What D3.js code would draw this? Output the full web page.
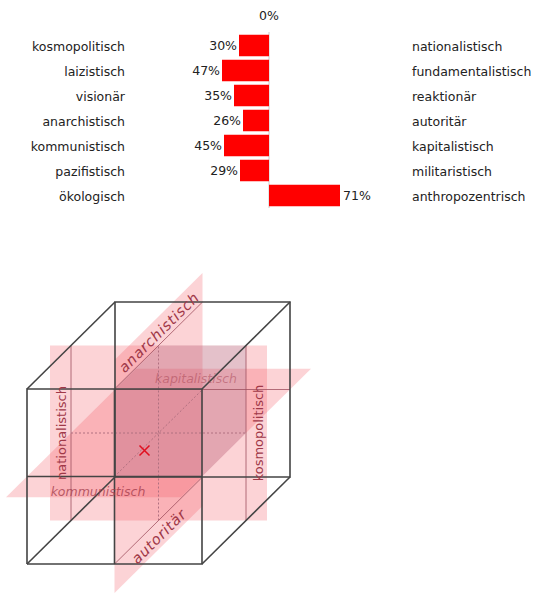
<!DOCTYPE html>
<html><head><meta charset="utf-8">
<script src="https://cdn.jsdelivr.net/npm/d3@7"></script>
<style>body{margin:0;background:#fff}svg{display:block}text{font-family:"DejaVu Sans",Verdana,sans-serif}</style>
</head><body>
<script>
const leftLabels = ["kosmopolitisch","laizistisch","visionär","anarchistisch","kommunistisch","pazifistisch","ökologisch"];
const rightLabels = ["nationalistisch","fundamentalistisch","reaktionär","autoritär","kapitalistisch","militaristisch","anthropozentrisch"];
const values = [-30,-47,-35,-26,-45,-29,71];
const tickLabels = ["0%"];
const planeLabels = ["anarchistisch","autoritär","nationalistisch","kosmopolitisch","kommunistisch","kapitalistisch"];
const position = [0.42, 0.40, 0.5];

const W=539,H=600;
const svg=d3.select("body").append("svg").attr("width",W).attr("height",H);

// ---- bar chart ----
const x=d3.scaleLinear().domain([-100,100]).range([169,369]);
const y=d3.scaleBand().domain(d3.range(values.length)).range([33,208]).paddingInner(0.14).paddingOuter(0.07);
const g=svg.append("g");
g.append("line").attr("x1",x(0)).attr("x2",x(0)).attr("y1",32).attr("y2",208).attr("stroke","#ccc");
g.append("text").attr("x",x(0)).attr("y",20).attr("text-anchor","middle").attr("font-size",12.5).attr("fill","#222").text(tickLabels[0]);
values.forEach((v,i)=>{
  const cy=y(i)+y.bandwidth()/2;
  g.append("rect").attr("x",x(Math.min(0,v))).attr("width",Math.abs(x(v)-x(0))).attr("y",y(i)).attr("height",y.bandwidth()).attr("fill","#ff0000");
  g.append("text").attr("x",v<0?x(v)-2:x(v)+3).attr("y",cy+4.5).attr("text-anchor",v<0?"end":"start").attr("font-size",12.5).attr("fill","#222").text(Math.abs(v)+"%");
  g.append("text").attr("x",125).attr("y",cy+5).attr("text-anchor","end").attr("font-size",12.5).attr("fill","#222").text(leftLabels[i]);
  g.append("text").attr("x",412).attr("y",cy+5).attr("font-size",12.5).attr("fill","#222").text(rightLabels[i]);
});

// ---- cube ----
const S=175, D=[88,-87];
const ux=d3.scaleLinear().domain([0,1]).range([27,27+S]);
const uy=d3.scaleLinear().domain([0,1]).range([564,564-S]);
function P(a,b,c){return [ux(a)+D[0]*c, uy(b)+D[1]*c];}
const line=d3.line();
const cg=svg.append("g");
const pf="rgba(245,80,90,0.25)";
function poly(pts,fill){cg.append("path").attr("d",line(pts)+"Z").attr("fill",fill);}
const e=21/175, ev=29/175, ed=21/88;
poly([P(-e,0,.5),P(1+e,0,.5),P(1+e,1,.5),P(-e,1,.5)],pf);
poly([P(0,.5,-ed),P(1,.5,-ed),P(1,.5,1+ed),P(0,.5,1+ed)],pf);
poly([P(.5,-ev,0),P(.5,-ev,1),P(.5,1+ev,1),P(.5,1+ev,0)],pf);
const oc="rgba(120,110,150,0.18)";
poly([P(.5,.5,0),P(1,.5,0),P(1,1,0),P(.5,1,0)],oc);
poly([P(.5,1,0),P(1,1,0),P(1,1,.5),P(.5,1,.5)],oc);
poly([P(1,.5,0),P(1,.5,.5),P(1,1,.5),P(1,1,0)],oc);
const il="#a05060";
[[P(0,0,.5),P(0,1,.5)],[P(1,0,.5),P(1,1,.5)],[P(.5,1,0),P(.5,1,1)],[P(.5,0,0),P(.5,0,1)],[P(0,.5,1),P(1,.5,1)]].forEach(s=>cg.append("path").attr("d",line(s)).attr("stroke",il).attr("stroke-width",0.8).attr("fill","none"));
[[P(.5,0,.5),P(.5,1,.5)],[P(0,.5,.5),P(1,.5,.5)],[P(.5,.5,0),P(.5,.5,1)]].forEach(s=>cg.append("path").attr("d",line(s)).attr("stroke","#b07080").attr("stroke-dasharray","2,2").attr("fill","none"));
const ce="#444";
const edges=[
 [P(0,0,0),P(1,0,0),P(1,1,0),P(0,1,0),P(0,0,0)],
 [P(0,0,1),P(1,0,1),P(1,1,1),P(0,1,1),P(0,0,1)],
 [P(0,0,0),P(0,0,1)],[P(1,0,0),P(1,0,1)],[P(1,1,0),P(1,1,1)],[P(0,1,0),P(0,1,1)],
 [P(.5,0,0),P(.5,1,0)],[P(0,.5,0),P(1,.5,0)]
];
edges.forEach(s=>cg.append("path").attr("d",line(s)).attr("stroke",ce).attr("stroke-width",1.6).attr("fill","none"));
const lc="#a03848";
function lab(t,p,rot,opts={}){
  cg.append("text").attr("transform",`translate(${p[0]},${p[1]}) rotate(${rot})`).attr("text-anchor","middle")
   .attr("font-size",opts.fs||12.5).attr("font-style",opts.it?"italic":"normal").attr("letter-spacing",opts.ls||0).attr("fill",opts.c||lc).attr("fill-opacity",opts.o||1).text(t);
}
lab(planeLabels[0],P(.5,1+ev/2,.5).map((v,i)=>v+(i?5:4)),-44.7,{it:1,fs:14.5,ls:0.8});
lab(planeLabels[1],P(.5,-ev/2,.5).map((v,i)=>v+(i?5:4)),-44.7,{it:1,fs:14.5,ls:0.8});
lab(planeLabels[2],[66,433],-90,{fs:13});
lab(planeLabels[3],[263,433],-90,{fs:13});
lab(planeLabels[4],[98,496],0,{it:1,o:0.75});
lab(planeLabels[5],[196,383],0,{it:1,o:0.45});
const m=P(...position);
cg.append("path").attr("d",`M${m[0]-5},${m[1]-5}L${m[0]+5},${m[1]+5}M${m[0]-5},${m[1]+5}L${m[0]+5},${m[1]-5}`).attr("stroke","#e01020").attr("stroke-width",1.5);
</script>
</body></html>
